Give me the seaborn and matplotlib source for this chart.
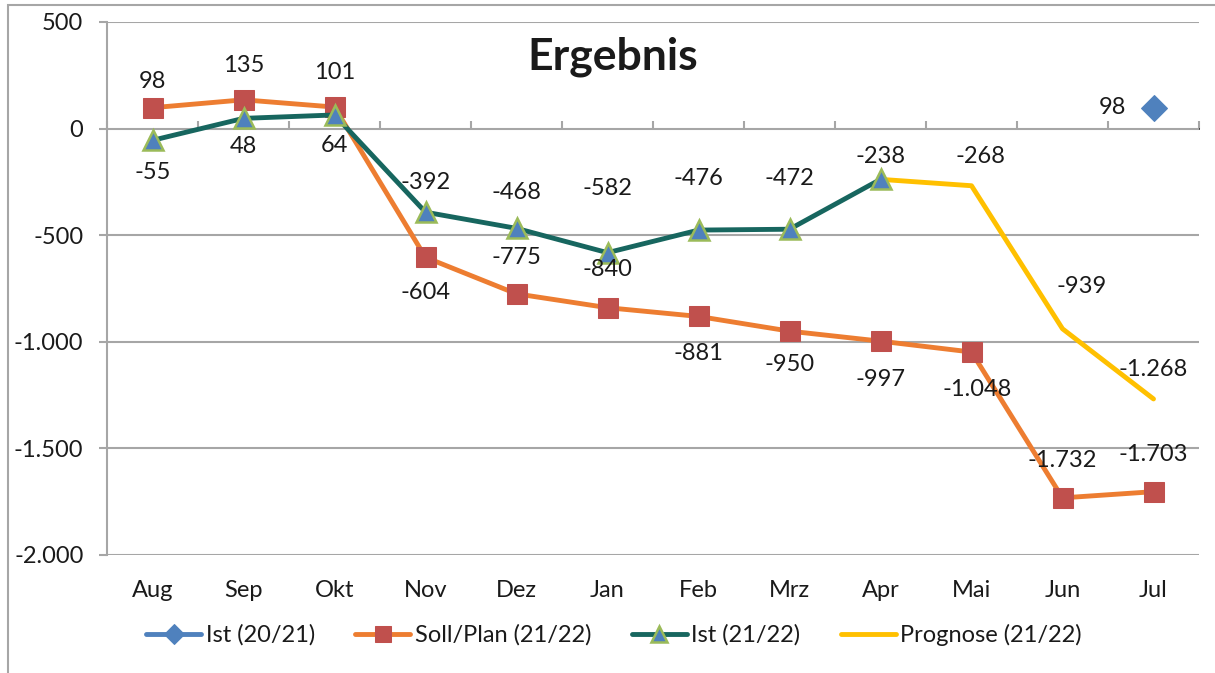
import numpy as np
import pandas as pd
import seaborn as sns
import matplotlib.pyplot as plt
from matplotlib.patches import Rectangle

# data
months = ["Aug", "Sep", "Okt", "Nov", "Dez", "Jan", "Feb", "Mrz", "Apr", "Mai", "Jun", "Jul"]

ist_2021_months = ["Jul"]
ist_2021 = [98]

soll_plan = [98, 135, 101, -604, -775, -840, -881, -950, -997, -1048, -1732, -1703]

ist_2122_months = ["Aug", "Sep", "Okt", "Nov", "Dez", "Jan", "Feb", "Mrz", "Apr"]
ist_2122 = [-55, 48, 64, -392, -468, -582, -476, -472, -238]

prognose_months = ["Apr", "Mai", "Jun", "Jul"]
prognose = [-238, -268, -939, -1268]

y_ticks = [500, 0, -500, -1000, -1500, -2000]

# colours (Excel 2010 palette)
BLUE = "#4F81BD"
ORANGE = "#ED7D31"
RED = "#C0504D"
TEAL = "#17665F"
GREEN = "#9BBB59"
YELLOW = "#FFC000"
GRID = "#A6A6A6"
TEXT = "#1A1A1A"


def de_num(v):
    return f"{v:,}".replace(",", ".")


def frame(names, values):
    return pd.DataFrame({"pos": [months.index(m) for m in names], "val": values})


sns.set_theme(style="white")
plt.rcParams["font.family"] = ["Lato", "DejaVu Sans"]

fig = plt.figure(figsize=(12.15, 6.73), dpi=100)
ax = fig.add_axes([107 / 1215, 1 - 555 / 673, 1092 / 1215, 533 / 673])

sns.lineplot(data=frame(ist_2021_months, ist_2021), x="pos", y="val", ax=ax,
             color=BLUE, lw=3.5, marker="D", markersize=13, markerfacecolor=BLUE,
             markeredgecolor=BLUE, label="Ist (20/21)", zorder=5)
sns.lineplot(data=frame(months, soll_plan), x="pos", y="val", ax=ax,
             color=ORANGE, lw=3.5, marker="s", markersize=14, markerfacecolor=RED,
             markeredgecolor=RED, label="Soll/Plan (21/22)", zorder=3)
sns.lineplot(data=frame(ist_2122_months, ist_2122), x="pos", y="val", ax=ax,
             color=TEAL, lw=3.5, marker="^", markersize=15, markerfacecolor=BLUE,
             markeredgecolor=GREEN, markeredgewidth=1.8, label="Ist (21/22)", zorder=4)
sns.lineplot(data=frame(prognose_months, prognose), x="pos", y="val", ax=ax,
             color=YELLOW, lw=3.5, label="Prognose (21/22)", zorder=2)

# data labels: offsets in pixels (dx, dy), placed like Excel did
px = 72 / 100
soll_off = [(0, 26), (0, 34), (0, 35), (0, -35), (0, 36), (0, 38),
            (0, -37), (0, -33), (0, -38), (6, -37), (0, 37), (0, 37)]
ist_off = [(0, -32), (0, -28), (0, -31), (0, 30), (0, 36), (0, 64),
           (0, 52), (0, 51), (0, 23)]
prog_off = [None, (9, 29), (19, 42), (0, 29)]


def put_labels(names, values, offsets):
    for m, v, off in zip(names, values, offsets):
        if off is None:
            continue
        ax.annotate(de_num(v), (months.index(m), v), xytext=(off[0] * px, off[1] * px),
                    textcoords="offset points", ha="center", va="center",
                    fontsize=17, color=TEXT, zorder=6)


put_labels(months, soll_plan, soll_off)
put_labels(ist_2122_months, ist_2122, ist_off)
put_labels(prognose_months, prognose, prog_off)
put_labels(ist_2021_months, ist_2021, [(-41, 0)])

# axes styling
ax.set_xlim(-0.5, len(months) - 0.5)
ax.set_ylim(-2000, 500)
ax.set_yticks(y_ticks)
ax.set_yticklabels([de_num(t) for t in y_ticks], fontsize=17, color=TEXT)
ax.set_xticks(range(len(months)))
ax.set_xticklabels(months, fontsize=17, color=TEXT)
ax.set_xlabel("")
ax.set_ylabel("")
ax.grid(axis="y", color=GRID, lw=1.5)
ax.set_axisbelow(True)
for s in ["top", "right", "bottom"]:
    ax.spines[s].set_visible(False)
ax.spines["left"].set_color(GRID)
ax.spines["left"].set_linewidth(1.5)
ax.tick_params(axis="y", which="major", direction="out", length=6, width=1.5,
               color=GRID, pad=11, left=True)
ax.tick_params(axis="x", which="major", length=0, pad=18)

# category axis crossing at zero, ticks between categories
zero_ax = ax.secondary_xaxis(2000 / 2500)
zero_ax.set_xticks(np.arange(len(months) + 1) - 0.5)
zero_ax.set_xticklabels([])
zero_ax.tick_params(direction="out", length=6, width=1.5, color=GRID)
zero_ax.spines["bottom"].set_color(GRID)
zero_ax.spines["bottom"].set_linewidth(1.5)

fig.text(613 / 1215, 1 - 57 / 673, "Ergebnis", ha="center", va="center",
         fontsize=32, fontweight="bold", color=TEXT)

handles, labels = ax.get_legend_handles_labels()
ax.get_legend().remove()
fig.legend(handles, labels, loc="center", bbox_to_anchor=(614 / 1215, 1 - 635 / 673),
           ncol=4, frameon=False, fontsize=17, handlelength=2.33, handletextpad=0.2,
           columnspacing=1.7, markerscale=0.8, labelcolor=TEXT)

# chart area border (cut by the image edge on the right and bottom)
fig.add_artist(Rectangle((8 / 1215, -0.1), 2, 1.1 - 5 / 673, transform=fig.transFigure,
                         fill=False, edgecolor=GRID, lw=1.5))

fig.savefig("out.png", dpi=100)
